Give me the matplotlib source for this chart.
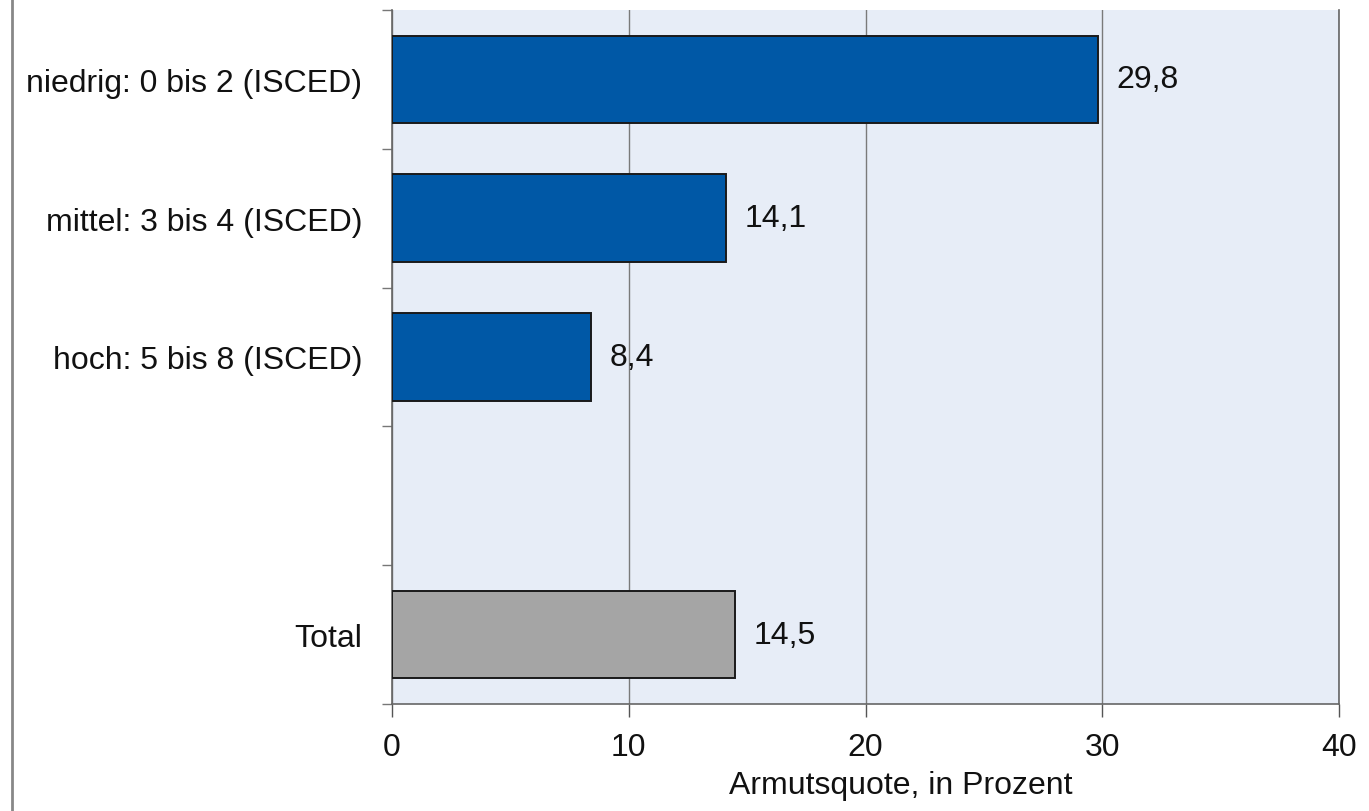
import matplotlib
matplotlib.use("Agg")
import matplotlib.pyplot as plt
from matplotlib.lines import Line2D

plt.rcParams['font.family'] = ['Liberation Sans', 'DejaVu Sans']

categories = ["niedrig: 0 bis 2 (ISCED)", "mittel: 3 bis 4 (ISCED)", "hoch: 5 bis 8 (ISCED)", "", "Total"]
values = [29.8, 14.1, 8.4, None, 14.5]
value_labels = ["29,8", "14,1", "8,4", "", "14,5"]
bar_colors = ["#0058A6", "#0058A6", "#0058A6", None, "#A5A5A5"]
x_ticks = [0, 10, 20, 30, 40]
x_label = "Armutsquote, in Prozent"

FS = 23

fig = plt.figure(figsize=(13.69, 8.12), dpi=100)
ax = fig.add_axes([392/1369, 1-705/812, (1339-392)/1369, (705-11)/812])
ax.set_facecolor("#E7EDF7")

pos = list(range(len(categories)))
for p, v, c, lab in zip(pos, values, bar_colors, value_labels):
    if v is None:
        continue
    ax.barh(p, v, height=0.63, color=c, edgecolor="#1a1a1a", linewidth=1.4, zorder=3)
    ax.annotate(lab, xy=(v, p), xytext=(13.5, 0), textcoords="offset points",
                ha="left", va="center", fontsize=FS, color="#111111", zorder=4)

ax.set_xlim(0, 40)
ax.set_ylim(len(categories) - 0.5, -0.5)
ax.set_xticks(x_ticks)
ax.set_xticklabels([str(t) for t in x_ticks], fontsize=FS, color="#111111")
ax.set_yticks(pos)
ax.set_yticklabels(categories, fontsize=FS, color="#111111")
ax.tick_params(axis='y', which='major', length=0, pad=21.5)
ax.set_yticks([p - 0.5 for p in pos] + [len(pos) - 0.5], minor=True)
ax.tick_params(axis='y', which='minor', length=7, width=1, color="#777777", direction='out')
ax.tick_params(axis='x', which='major', length=9, width=1, color="#555555", pad=11)

ax.grid(axis='x', color="#7a7a7a", linewidth=1.0, zorder=1)
ax.set_axisbelow(True)

for s in ['left', 'bottom', 'right']:
    ax.spines[s].set_color("#666666")
    ax.spines[s].set_linewidth(1.2)
ax.spines['top'].set_visible(False)

ax.set_xlabel(x_label, fontsize=FS, color="#111111")
ax.xaxis.set_label_coords((901-392)/947, -0.095)

fig.add_artist(Line2D([11.5/1369, 11.5/1369], [0, 1], transform=fig.transFigure,
                      color="#888888", linewidth=2))

fig.savefig("out.png", dpi=100)
